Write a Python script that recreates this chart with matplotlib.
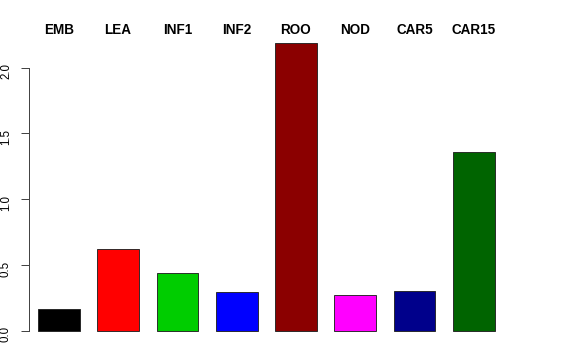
import matplotlib
matplotlib.use('Agg')
import matplotlib.pyplot as plt
import matplotlib.transforms as mtransforms

plt.rcParams['font.family'] = ['Liberation Sans', 'DejaVu Sans']

tissues = ['EMB', 'LEA', 'INF1', 'INF2', 'ROO', 'NOD', 'CAR5', 'CAR15']
values = [0.163, 0.619, 0.441, 0.292, 2.19, 0.271, 0.302, 1.359]
colors = ['#000000', '#FF0000', '#00CD00', '#0000FF', '#8B0000', '#FF00FF', '#00008B', '#006400']
yticks = [0.0, 0.5, 1.0, 1.5, 2.0]

W, H = 576, 360
fig = plt.figure(figsize=(W / 72, H / 72), dpi=72)
# plot region in pixels, R-like margins
left, right, top, bottom = 29, 503.7, 31.2, 342.2
ax = fig.add_axes([left / W, 1 - bottom / H, (right - left) / W, (bottom - top) / H])

x = list(range(len(tissues)))
ax.bar(x, values, width=0.703, color=colors, edgecolor='#222222', linewidth=0.9)

ax.set_xlim(-0.503, 7.503)
ax.set_ylim(-0.0876, 2.2776)

for s in ['top', 'right', 'bottom']:
    ax.spines[s].set_visible(False)
ax.spines['left'].set_bounds(0, 2)
ax.spines['left'].set_color('#444444')
ax.spines['left'].set_linewidth(1.0)
ax.set_xticks([])
ax.set_yticks(yticks)
ax.set_yticklabels([f'{t:.1f}' for t in yticks])
ax.tick_params(axis='y', length=8, pad=9, labelsize=11.5, labelrotation=90,
               color='#444444', width=1.0)

# tissue names above the bars
trans = mtransforms.blended_transform_factory(ax.transData, fig.transFigure)
for xi, name in zip(x, tissues):
    ax.text(xi, 1 - 29.5 / H, name, transform=trans, ha='center', va='center',
            fontsize=13.5, fontweight='bold')

fig.savefig('out.png', dpi=72)
